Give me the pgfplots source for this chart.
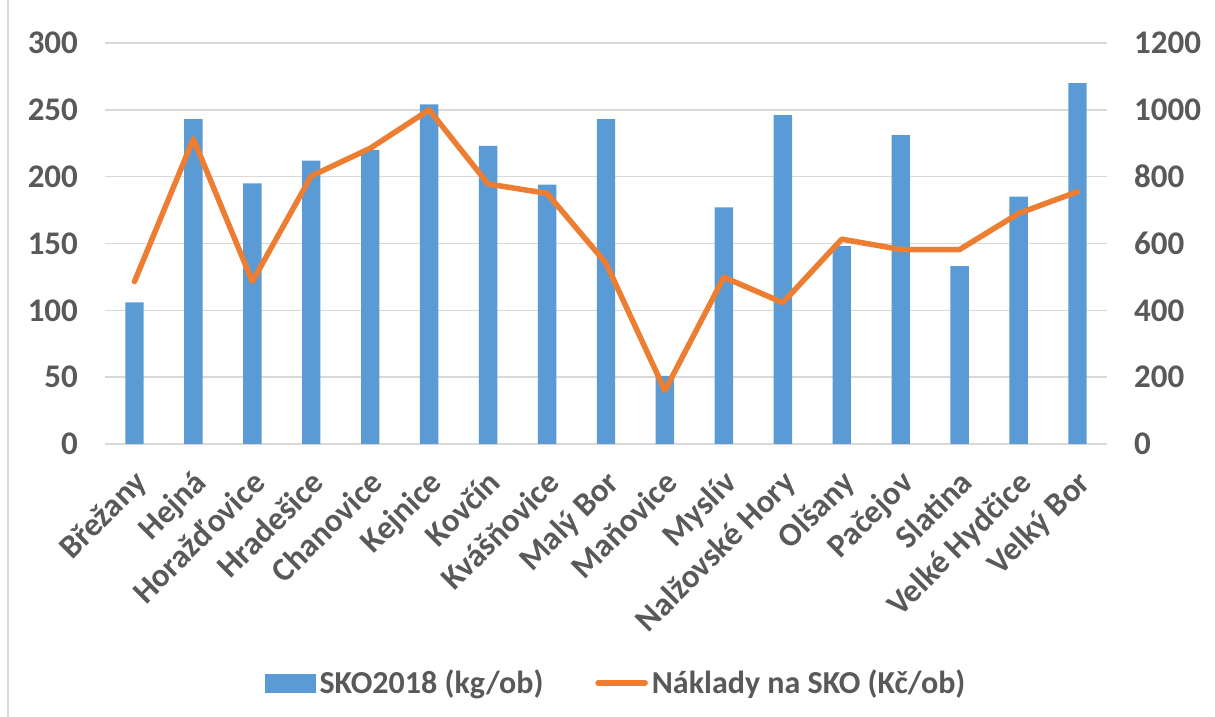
\documentclass[border=0pt]{standalone}
\usepackage{pgfplots}
\usepackage{pgfplotstable}
\pgfplotsset{compat=1.18}
\usepackage{fontspec}
\setmainfont{Carlito}
\definecolor{barblue}{HTML}{5B9BD5}
\definecolor{lineorange}{HTML}{ED7D31}
\definecolor{txtgray}{HTML}{595959}
\definecolor{gridgray}{HTML}{D9D9D9}

\pgfplotstableread{
x sko naklady
0 106 486
1 243 913
2 195 486
3 212 802
4 220 885
5 254 1000
6 223 778
7 194 750
8 243 541
9 51 160
10 177 499
11 246 423
12 148 613
13 231 582
14 133 582
15 185 690
16 270 755
}\data

\begin{document}
\begin{tikzpicture}
\path[use as bounding box] (0,0) rectangle (607.5pt,358.5pt);
\draw[gridgray, line width=0.75pt] (4pt,0) -- (4pt,358.5pt);
\pgfplotsset{
 common/.style={
  at={(52.5pt,136.5pt)}, anchor=south west,
  scale only axis, width=501pt, height=200.5pt,
  xmin=-0.5, xmax=16.5,
  axis line style={draw=none},
  major tick length=0pt,
  tick label style={font=\fontsize{16.5}{19}\selectfont\bfseries, text=txtgray},
  /pgf/number format/assume math mode=true,
  /pgf/number format/1000 sep={},
  clip=false,
 }
}
\begin{axis}[common,
  ymin=0, ymax=300, ytick={0,50,...,300},
  ymajorgrids, grid style={gridgray, line width=0.75pt},
  yticklabel style={xshift=-10pt},
  xtick={0,...,16},
  xticklabels={Břežany,Hejná,Horažďovice,Hradešice,Chanovice,Kejnice,Kovčín,Kvášňovice,Malý Bor,Maňovice,Myslív,Nalžovské Hory,Olšany,Pačejov,Slatina,Velké Hydčice,Velký Bor},
  xticklabel style={xshift=-1pt, yshift=-12pt, rotate=45, anchor=north east, inner sep=0pt},
  ybar, bar width=9.2pt,
  ]
\addplot[fill=barblue, draw=none] table[x=x, y=sko] {\data};
\end{axis}
\begin{axis}[common,
  ymin=0, ymax=1200, ytick={0,200,...,1200},
  yticklabel pos=right,
  yticklabel style={xshift=10pt},
  xtick=\empty,
  legend style={draw=none, fill=none, at={(0.511,-0.596)}, anchor=center,
    legend columns=-1, font=\fontsize{16}{19}\selectfont\bfseries, text=txtgray,
    /tikz/every even column/.append style={column sep=24pt},
    inner sep=0pt},
  legend cell align=left,
  ]
\addlegendimage{legend image code/.code={\fill[barblue] (0pt,-4.5pt) rectangle (25pt,4.5pt);}}
\addlegendentry{SKO2018 (kg/ob)}
\addplot[lineorange, line width=2.75pt, line join=round, line cap=round, mark=none,
  legend image code/.code={\draw[lineorange, line width=2.75pt, line cap=round] (0pt,0pt) -- (23.5pt,0pt);}]
  table[x=x, y=naklady] {\data};
\addlegendentry{Náklady na SKO (Kč/ob)}
\end{axis}
\end{tikzpicture}
\end{document}
